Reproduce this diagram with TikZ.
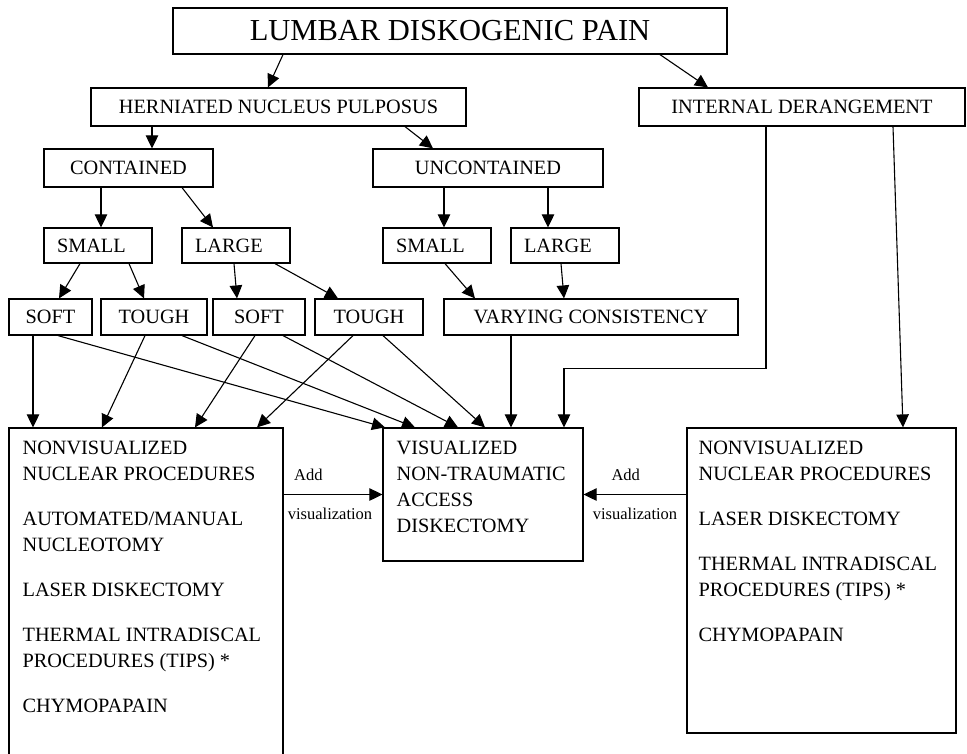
\documentclass[tikz,border=0pt]{standalone}
\usepackage{fontspec}
\setmainfont{Liberation Serif}
\usepackage{tikz}
\usetikzlibrary{positioning, arrows.meta}
\newcommand{\boxfont}{\fontsize{20.3}{26}\selectfont}
\newcommand{\topfont}{\fontsize{30.5}{36}\selectfont}
\newcommand{\lblfont}{\fontsize{16.5}{20}\selectfont}
\tikzstyle{box} = [rectangle, 
minimum height=38pt,
text centered, 
draw=black, 
line width=1.2pt,
font=\boxfont]
\tikzstyle{topbox} = [box, 
minimum width=554pt, 
minimum height=46pt, 
font=\topfont]
\tikzstyle{sizebox} = [box, 
minimum height=35pt, 
text width=82pt, 
inner xsep=13pt, 
align=left]
\tikzstyle{bigbox} = [rectangle, 
draw=black, 
line width=1.2pt, 
inner sep=0pt]
\tikzstyle{boxtext} = [inner sep=0pt, align=left, font=\boxfont]
\tikzstyle{lbl} = [inner sep=0pt, font=\lblfont]
\tikzstyle{arrow} = [line width=1.1pt,->,>={Triangle[length=13pt,width=12.5pt]}]

\begin{document}
\begin{tikzpicture}[x=1pt, y=-1pt, node distance=70pt]
\useasboundingbox (0,0) rectangle (967,753);

\node (pain) [topbox] at (450,31) {LUMBAR DISKOGENIC PAIN};

\node (hnp) [box, minimum width=375pt, below of=pain, xshift=-171.5pt, yshift=-6pt] {HERNIATED NUCLEUS PULPOSUS};
\node (derange) [box, minimum width=326pt, below of=pain, xshift=352pt, yshift=-6pt] {INTERNAL DERANGEMENT};

\node (cont) [box, minimum width=169pt, below of=hnp, xshift=-150pt, yshift=9pt] {CONTAINED};
\node (uncont) [box, minimum width=230pt, below of=hnp, xshift=209.5pt, yshift=9pt] {UNCONTAINED};

\node (csmall) [sizebox, below of=cont, xshift=-30.5pt, yshift=-7.5pt] {SMALL};
\node (clarge) [sizebox, below of=cont, xshift=107.5pt, yshift=-7.5pt] {LARGE};
\node (usmall) [sizebox, below of=uncont, xshift=-51pt, yshift=-7.5pt] {SMALL};
\node (ularge) [sizebox, below of=uncont, xshift=77pt, yshift=-7.5pt] {LARGE};

\node (ssoft) [box, minimum width=83pt, minimum height=36pt, below of=csmall, xshift=-47.5pt, yshift=-1.5pt] {SOFT};
\node (stough) [box, minimum width=106pt, minimum height=36pt, below of=csmall, xshift=56pt, yshift=-1.5pt] {TOUGH};
\node (lsoft) [box, minimum width=92pt, minimum height=36pt, below of=clarge, xshift=23pt, yshift=-1.5pt] {SOFT};
\node (ltough) [box, minimum width=108pt, minimum height=36pt, below of=clarge, xshift=133pt, yshift=-1.5pt] {TOUGH};
\node (vary) [box, minimum width=294pt, minimum height=36pt, below of=ularge, xshift=26pt, yshift=-1.5pt] {VARYING CONSISTENCY};

\node (nonvisl) [bigbox, minimum width=274pt, minimum height=342pt] at (146,599) {};
\node (vis) [bigbox, minimum width=200pt, minimum height=133pt] at (483,494.5) {};
\node (nonvisr) [bigbox, minimum width=269pt, minimum height=305pt] at (821.5,580.5) {};

\node (nonvisltext) [boxtext, below right=13.5pt and 14pt of nonvisl.north west] {NONVISUALIZED\\ NUCLEAR PROCEDURES\\[19pt] AUTOMATED/MANUAL\\ NUCLEOTOMY\\[19pt] LASER DISKECTOMY\\[19pt] THERMAL INTRADISCAL\\ PROCEDURES (TIPS) *\\[19pt] CHYMOPAPAIN};
\node (vistext) [boxtext, below right=13.5pt and 14pt of vis.north west] {VISUALIZED\\ NON-TRAUMATIC\\ ACCESS\\ DISKECTOMY};
\node (nonvisrtext) [boxtext, below right=13.5pt and 12pt of nonvisr.north west] {NONVISUALIZED\\ NUCLEAR PROCEDURES\\[19pt] LASER DISKECTOMY\\[19pt] THERMAL INTRADISCAL\\ PROCEDURES (TIPS) *\\[19pt] CHYMOPAPAIN};

\draw [arrow] ([xshift=-167pt]pain.south) -- ([xshift=-10.5pt]hnp.north);
\draw [arrow] ([xshift=210pt]pain.south) -- ([xshift=-94pt]derange.north);
\draw [arrow] ([xshift=-126.5pt]hnp.south) -- ([xshift=23.5pt]cont.north);
\draw [arrow] ([xshift=126.5pt]hnp.south) -- ([xshift=-55pt]uncont.north);
\draw [arrow] ([xshift=-27.5pt]cont.south) -- ([xshift=3pt]csmall.north);
\draw [arrow] ([xshift=53.5pt]cont.south) -- ([xshift=-23pt]clarge.north);
\draw [arrow] ([xshift=-44pt]uncont.south) -- ([xshift=7pt]usmall.north);
\draw [arrow] ([xshift=60pt]uncont.south) -- ([xshift=-17pt]ularge.north);
\draw [arrow] ([xshift=-18pt]csmall.south) -- ([xshift=8.5pt]ssoft.north);
\draw [arrow] ([xshift=31pt]csmall.south) -- ([xshift=-10pt]stough.north);
\draw [arrow] ([xshift=-2pt]clarge.south) -- ([xshift=-22pt]lsoft.north);
\draw [arrow] ([xshift=39pt]clarge.south) -- ([xshift=-31pt]ltough.north);
\draw [arrow] ([xshift=8pt]usmall.south) -- ([xshift=-116pt]vary.north);
\draw [arrow] ([xshift=-4pt]ularge.south) -- ([xshift=-27pt]vary.north);

\draw [arrow] ([xshift=-17.5pt]ssoft.south) -- ([xshift=-113pt]nonvisl.north);
\draw [arrow] ([xshift=7.5pt]ssoft.south) -- ([xshift=-98pt]vis.north);
\draw [arrow] ([xshift=-9pt]stough.south) -- ([xshift=-44pt]nonvisl.north);
\draw [arrow] ([xshift=28pt]stough.south) -- ([xshift=-68pt]vis.north);
\draw [arrow] ([xshift=-4pt]lsoft.south) -- ([xshift=49pt]nonvisl.north);
\draw [arrow] ([xshift=24pt]lsoft.south) -- ([xshift=-25pt]vis.north);
\draw [arrow] ([xshift=-16pt]ltough.south) -- ([xshift=111pt]nonvisl.north);
\draw [arrow] ([xshift=14pt]ltough.south) -- ([xshift=2pt]vis.north);
\draw [arrow] ([xshift=-80pt]vary.south) -- ([xshift=28pt]vis.north);
\draw [arrow] ([xshift=-36pt]derange.south) -- ++(0,242) -| ([xshift=81pt]vis.north);
\draw [arrow] ([xshift=91pt]derange.south) -- ([xshift=81.5pt]nonvisr.north);

\draw [arrow] (vis.west -| nonvisl.east) -- node[lbl, above=13pt, pos=0.25] {Add} node[lbl, below=13pt, pos=0.47] {visualization} (vis.west);
\draw [arrow] (vis.east -| nonvisr.west) -- node[lbl, above=13pt, pos=0.59] {Add} node[lbl, below=13pt, pos=0.5] {visualization} (vis.east);

\end{tikzpicture}
\end{document}
